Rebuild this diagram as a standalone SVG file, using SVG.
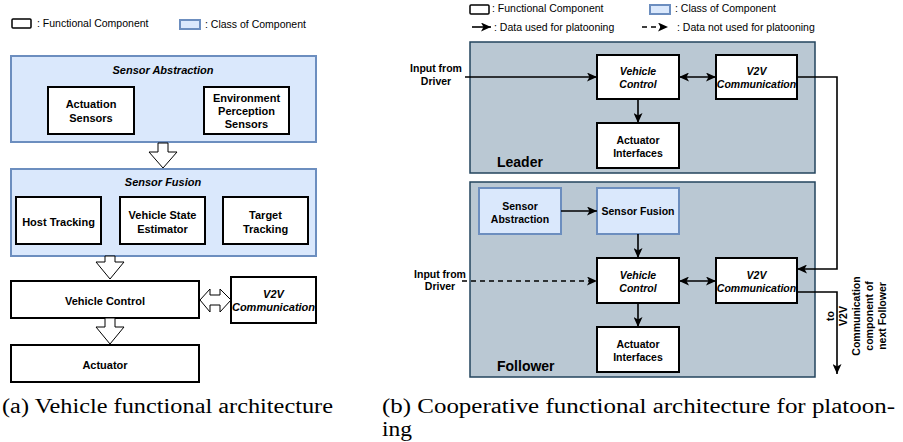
<svg xmlns="http://www.w3.org/2000/svg" width="903" height="442" viewBox="0 0 903 442">
<defs>
<style>
text{font-family:"Liberation Sans",Arial,sans-serif;fill:#000}
.b{font-weight:bold;font-size:11px;text-anchor:middle}
.bi{font-weight:bold;font-style:italic;font-size:11px;text-anchor:middle}
.rb{font-weight:bold;font-size:10.5px;text-anchor:middle}
.rbi{font-weight:bold;font-style:italic;font-size:10.5px;text-anchor:middle}
.lg{font-size:10.5px}
.big{font-weight:bold;font-size:14px}
.cap{font-family:"Liberation Serif","Times New Roman",serif;font-size:20px}
.fc{fill:#fff;stroke:#000;stroke-width:2}
.cc{fill:#dae8fc;stroke:#6c8ebf;stroke-width:2}
.grp{fill:#bac8d3;stroke:#23445d;stroke-width:1.5}
.hol{fill:#fff;stroke:#000;stroke-width:1}
.ln{fill:none;stroke:#000;stroke-width:1.6}
.arr{marker-end:url(#ah)}
.dbl{marker-end:url(#ah);marker-start:url(#ah)}
</style>
<marker id="ah" markerUnits="userSpaceOnUse" markerWidth="11" markerHeight="9" refX="10" refY="4.5" orient="auto-start-reverse">
<path d="M0,0 L10,4.5 L0,9 L2.5,4.5 Z" fill="#000"/>
</marker>
</defs>

<!-- ===== Left panel (a) ===== -->
<g id="legend-a">
<rect x="12" y="19" width="19" height="9" rx="1" fill="#fff" stroke="#000" stroke-width="1.5"/>
<text class="lg" x="37" y="27">: Functional Component</text>
<rect x="180" y="20" width="20" height="9" class="cc"/>
<text class="lg" x="205" y="28">:  Class of Component</text>
</g>

<g id="sensor-abstraction">
<rect x="11" y="56" width="305" height="86" class="cc"/>
<text class="bi" x="163" y="74">Sensor Abstraction</text>
</g>
<g id="actuation-sensors">
<rect x="48" y="87" width="86" height="47" class="fc"/>
<text class="b" x="91" y="108">Actuation<tspan x="91" dy="14">Sensors</tspan></text>
</g>
<g id="env-perception-sensors">
<rect x="204" y="87" width="85" height="47" class="fc"/>
<text class="b" x="246.5" y="102">Environment<tspan x="246.5" dy="13">Perception</tspan><tspan x="246.5" dy="13">Sensors</tspan></text>
</g>

<g id="sensor-fusion">
<rect x="11" y="169" width="305" height="87" class="cc"/>
<text class="bi" x="163" y="186">Sensor Fusion</text>
</g>
<g id="host-tracking">
<rect x="16" y="197" width="85" height="47" class="fc"/>
<text class="b" x="58.5" y="226">Host Tracking</text>
</g>
<g id="vehicle-state-estimator">
<rect x="120" y="197" width="85" height="47" class="fc"/>
<text class="b" x="162.5" y="219">Vehicle State<tspan x="162.5" dy="14">Estimator</tspan></text>
</g>
<g id="target-tracking">
<rect x="223" y="197" width="85" height="47" class="fc"/>
<text class="b" x="265.5" y="219">Target<tspan x="265.5" dy="14">Tracking</tspan></text>
</g>

<g id="vehicle-control-a">
<rect x="11" y="281" width="188" height="37" class="fc"/>
<text class="b" x="105" y="305">Vehicle Control</text>
</g>
<g id="v2v-a">
<rect x="231" y="277" width="85" height="46" class="fc"/>
<text class="bi" x="273.5" y="298">V2V<tspan x="273.5" dy="13">Communication</tspan></text>
</g>
<g id="actuator-a">
<rect x="11" y="345" width="188" height="37" class="fc"/>
<text class="b" x="105" y="369">Actuator</text>
</g>

<g id="connectors-a">
<path class="hol" d="M158,143 H168 V152 H177 L163,168 L149,152 H158 Z"/>
<path class="hol" d="M105,256 H115 V262 H124 L110,279 L96,262 H105 Z"/>
<path class="hol" d="M105,318 H115 V327 H124 L110,344 L96,327 H105 Z"/>
<path class="hol" d="M200,300 L210,289 V295 H220 V289 L231,300 L220,312 V305 H210 V312 Z"/>
</g>

<!-- ===== Right panel (b) ===== -->
<g id="legend-b">
<rect x="470" y="5" width="19" height="9" rx="1" fill="#fff" stroke="#000" stroke-width="1.5"/>
<text class="lg" x="492" y="12">: Functional Component</text>
<rect x="650" y="5" width="20" height="9" class="cc"/>
<text class="lg" x="675" y="12">:  Class of Component</text>
<line x1="472" y1="27" x2="491" y2="27" class="ln arr"/>
<text class="lg" x="494" y="31">:  Data used for platooning</text>
<line x1="642" y1="27" x2="668" y2="27" class="ln arr" stroke-dasharray="5,4"/>
<text class="lg" x="677" y="31">: Data not used for platooning</text>
</g>

<g id="leader">
<rect x="470" y="42" width="345" height="131" class="grp"/>
<text class="big" x="497" y="167">Leader</text>
</g>
<g id="follower">
<rect x="470" y="182" width="345" height="195" class="grp"/>
<text class="big" x="497" y="371">Follower</text>
</g>

<g id="input-driver-leader">
<text class="rb" x="436" y="72">Input from<tspan x="436" dy="13">Driver</tspan></text>
</g>
<g id="vehicle-control-leader">
<rect x="597" y="55" width="82" height="44" class="fc"/>
<text class="rbi" x="638" y="75">Vehicle<tspan x="638" dy="13">Control</tspan></text>
</g>
<g id="actuator-interfaces-leader">
<rect x="597" y="123" width="82" height="45" class="fc"/>
<text class="rb" x="638" y="144">Actuator<tspan x="638" dy="13">Interfaces</tspan></text>
</g>
<g id="v2v-leader">
<rect x="716" y="55" width="81" height="44" class="fc"/>
<text class="rbi" x="756.5" y="75">V2V<tspan x="756.5" dy="13">Communication</tspan></text>
</g>

<g id="sensor-abstraction-follower">
<rect x="479" y="188" width="82" height="46" class="cc"/>
<text class="rb" x="520" y="210">Sensor<tspan x="520" dy="12.5">Abstraction</tspan></text>
</g>
<g id="sensor-fusion-follower">
<rect x="597" y="188" width="82" height="46" class="cc"/>
<text class="rb" x="638" y="215">Sensor Fusion</text>
</g>
<g id="input-driver-follower">
<text class="rb" x="440" y="278">Input from<tspan x="440" dy="12">Driver</tspan></text>
</g>
<g id="vehicle-control-follower">
<rect x="597" y="258" width="82" height="45" class="fc"/>
<text class="rbi" x="638" y="279">Vehicle<tspan x="638" dy="13">Control</tspan></text>
</g>
<g id="actuator-interfaces-follower">
<rect x="597" y="327" width="82" height="45" class="fc"/>
<text class="rb" x="638" y="348">Actuator<tspan x="638" dy="13">Interfaces</tspan></text>
</g>
<g id="v2v-follower">
<rect x="716" y="258" width="81" height="45" class="fc"/>
<text class="rbi" x="756.5" y="279">V2V<tspan x="756.5" dy="13">Communication</tspan></text>
</g>

<g id="connectors-b">
<line x1="465" y1="77" x2="597" y2="77" class="ln arr"/>
<line x1="638" y1="99" x2="638" y2="123" class="ln arr"/>
<line x1="679" y1="77" x2="716" y2="77" class="ln dbl"/>
<path d="M797,77 H837 V269 H797" class="ln arr"/>
<line x1="561" y1="211" x2="597" y2="211" class="ln arr"/>
<line x1="638" y1="234" x2="638" y2="258" class="ln arr"/>
<line x1="638" y1="303" x2="638" y2="327" class="ln arr"/>
<line x1="462" y1="281" x2="597" y2="281" class="ln arr" stroke-dasharray="5,4"/>
<line x1="679" y1="281" x2="716" y2="281" class="ln dbl"/>
<path d="M797,292 H837 V374" class="ln arr"/>
</g>
<g id="label-next-follower" transform="translate(830,316) rotate(-90)">
<text class="rb" x="0" y="4">to<tspan x="0" dy="13">V2V</tspan><tspan x="0" dy="13">Communication</tspan><tspan x="0" dy="13">component of</tspan><tspan x="0" dy="13">next Follower</tspan></text>
</g>

<!-- captions -->
<text class="cap" x="2" y="413" textLength="331" lengthAdjust="spacingAndGlyphs">(a) Vehicle functional architecture</text>
<text class="cap" x="382" y="413" textLength="513" lengthAdjust="spacingAndGlyphs">(b)  Cooperative functional architecture for platoon-</text>
<text class="cap" x="382" y="436" textLength="30" lengthAdjust="spacingAndGlyphs">ing</text>
</svg>
